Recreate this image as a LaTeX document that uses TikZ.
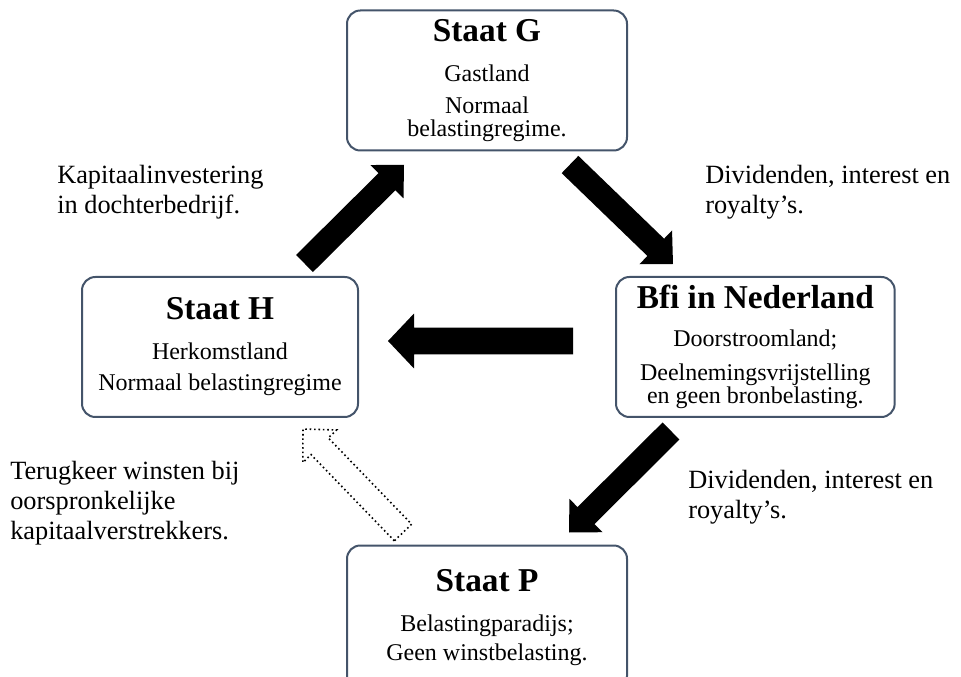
\documentclass[tikz,border=0pt]{standalone}
\usepackage{fontspec}
\setmainfont{Liberation Serif}
\usetikzlibrary{positioning, calc}
\definecolor{landrand}{HTML}{44546A}
\newcommand{\landnaam}[1]{{\fontsize{25}{30}\selectfont\bfseries #1}}
\tikzset{
    land/.style={draw=landrand, rectangle, rounded corners=10pt, line width=1.5pt, fill=white, align=center, minimum width=210pt, minimum height=105pt, inner sep=0pt, font=\fontsize{18}{17.25}\selectfont},
    uitleg/.style={anchor=north west, align=left, inner sep=0pt, font=\fontsize{19.75}{22.5}\selectfont},
    pijl/.style n args={3}{to path={let \p1=(\tikztostart), \p2=(\tikztotarget),
        \n1={atan2(\y2-\y1,\x2-\x1)}, \p3=($(\p2)!#3!(\p1)$) in
        ([shift={(\n1+90:#1)}]\p1) -- ([shift={(\n1+90:#1)}]\p3) -- ([shift={(\n1+90:#2)}]\p3)
        -- (\p2) -- ([shift={(\n1-90:#2)}]\p3) -- ([shift={(\n1-90:#1)}]\p3)
        -- ([shift={(\n1-90:#1)}]\p1) -- cycle}},
    blokpijl/.style={pijl={9pt}{17.6pt}{18pt}, fill=black},
    breedpijl/.style={pijl={10.1pt}{20.6pt}{19.5pt}, fill=black},
    holpijl/.style={pijl={9pt}{17.6pt}{18pt}, draw=black, fill=white, line width=1.2pt, dash pattern=on 1.2pt off 2.1pt}
}

\begin{document}
\begin{tikzpicture}[x=0.75pt, y=-0.75pt]
    \useasboundingbox (0,0) rectangle (961,677);

    % Landen
    \node (staatg) [land] at (487,80.5) {\landnaam{Staat G}\\[12.75pt]Gastland\\[6.75pt]Normaal\\belastingregime.};
    \node (staath) [land, minimum width=207pt] at (220,347) {\landnaam{Staat H}\\[12.75pt]Herkomstland\\[6pt]Normaal belastingregime};
    \node (bfi) [land, minimum width=209pt, right=192pt of staath] {\landnaam{Bfi in Nederland}\\[11.25pt]Doorstroomland;\\[8.25pt]Deelnemingsvrijstelling\\en geen bronbelasting.};
    \node (staatp) [land, minimum height=108pt, below=294.75pt of staatg] {\landnaam{Staat P}\\[12.75pt]Belastingparadijs;\\[4.5pt]Geen winstbelasting.};

    % Stromen
    \path [blokpijl] ([shift={(-54.5,-12.5)}]staath.north east) to ([shift={(58,13.3)}]staatg.south west);
    \path [blokpijl] ([shift={(-58,13)}]staatg.south east) to ([shift={(58,-12)}]bfi.north west);
    \path [breedpijl] ([shift={(-42,-6)}]bfi.west) to ([shift={(29,-6)}]staath.east);
    \path [blokpijl] ([shift={(56,13)}]bfi.south west) to ([shift={(-59,-12)}]staatp.north east);
    \path [holpijl] ([shift={(57,-12)}]staatp.north west) to ([shift={(-56,11)}]staath.south east);

    % Toelichting
    \node (kapitaal) [uitleg] at (57,165) {Kapitaalinvestering\\in dochterbedrijf.};
    \node (divboven) [uitleg] at (705,165) {Dividenden, interest en\\royalty’s.};
    \node (divonder) [uitleg] at (688,470) {Dividenden, interest en\\royalty’s.};
    \node (terugkeer) [uitleg] at (10,461) {Terugkeer winsten bij\\oorspronkelijke\\kapitaalverstrekkers.};

\end{tikzpicture}
\end{document}
